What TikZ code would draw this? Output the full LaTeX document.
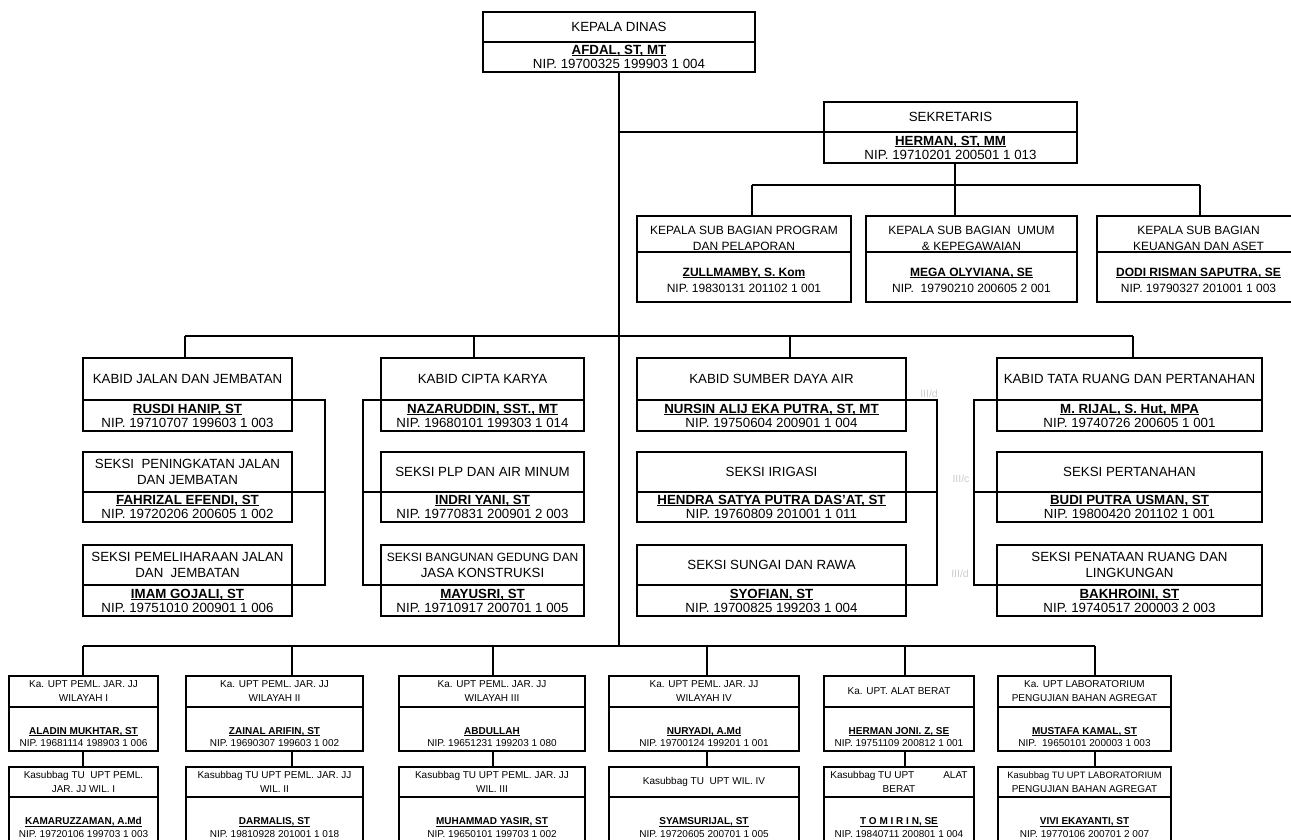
\documentclass[tikz,border=0pt]{standalone}
\usepackage{fontspec}
\setmainfont{Liberation Sans}
\usetikzlibrary{calc}
\newcommand{\namepad}{}
\newcommand{\titlepad}{}
\newcommand{\nameul}[1]{\sbox0{\textbf{#1}}\rlap{\rule[-1.7pt]{\wd0}{0.9pt}}\usebox0}
% unit: name, left, top, divider, right, bottom, title, person, nip
\newcommand{\orgunit}[9]{%
  \node[head, minimum width={#5-#2}, minimum height={#4-#3}] (#1-t) at ({(#2+#5)/2},{(#3+#4)/2}) {\titlepad#7};
  \node[body, minimum width={#5-#2}, minimum height={#6-#4}] (#1-b) at ({(#2+#5)/2},{(#4+#6)/2}) {\namepad\nameul{#8}\\#9};
}
\tikzset{
  cell/.style={draw, rectangle, inner sep=0pt, outer sep=0pt, align=center, line width=1.4pt},
  head/.style={cell, font=\fontsize{13.3}{16}\selectfont},
  body/.style={cell, font=\fontsize{13.3}{14}\selectfont},
  link/.style={line width=1.4pt},
  grade/.style={text=black!20, font=\fontsize{10.5}{12}\selectfont}
}

\begin{document}
\begin{tikzpicture}[x=1pt,y=-1pt]
\clip (0,0) rectangle (1291,839);
\fill[white] (0,0) rectangle (1291,839);
\node[grade] (g1) at (929,394) {III/d};
\node[grade] (g2) at (961,479) {III/c};
\node[grade] (g3) at (960,574) {III/d};

\orgunit{kd}{483}{12}{42}{755}{72}{KEPALA DINAS}{AFDAL, ST, MT}{NIP. 19700325 199903 1 004}
\orgunit{sek}{824}{102}{132}{1077}{163}{SEKRETARIS}{HERMAN, ST, MM}{NIP. 19710201 200501 1 013}

% sub bagian
\begin{scope}[head/.append style={font=\fontsize{12}{16}\selectfont}, body/.append style={font=\fontsize{12}{16}\selectfont}]
\renewcommand{\titlepad}{\rule{0pt}{17.5pt}}
\renewcommand{\namepad}{\rule{0pt}{14.6pt}}
\orgunit{sb1}{637}{216}{252}{851}{302}{KEPALA SUB BAGIAN PROGRAM\\DAN PELAPORAN}{ZULLMAMBY, S. Kom}{NIP. 19830131 201102 1 001}
\orgunit{sb2}{866}{216}{252}{1077}{302}{KEPALA SUB BAGIAN\ \ UMUM\\\& KEPEGAWAIAN}{MEGA OLYVIANA, SE}{NIP.\ \ 19790210 200605 2 001}
\orgunit{sb3}{1097}{216}{252}{1300}{302}{KEPALA SUB BAGIAN\\KEUANGAN DAN ASET}{DODI RISMAN SAPUTRA, SE}{NIP. 19790327 201001 1 003}
\end{scope}

% kabid dan seksi
\orgunit{kb1}{83}{358}{400}{292}{431}{KABID JALAN DAN JEMBATAN}{RUSDI HANIP, ST}{NIP. 19710707 199603 1 003}
\orgunit{kb2}{381}{358}{400}{584}{431}{KABID CIPTA KARYA}{NAZARUDDIN, SST., MT}{NIP. 19680101 199303 1 014}
\orgunit{kb3}{637}{358}{400}{906}{431}{KABID SUMBER DAYA AIR}{NURSIN ALIJ EKA PUTRA, ST, MT}{NIP. 19750604 200901 1 004}
\orgunit{kb4}{997}{358}{400}{1262}{431}{KABID TATA RUANG DAN PERTANAHAN}{M. RIJAL, S. Hut, MPA}{NIP. 19740726 200605 1 001}

\orgunit{s11}{83}{452}{492}{292}{522}{SEKSI\ \ PENINGKATAN JALAN\\DAN JEMBATAN}{FAHRIZAL EFENDI, ST}{NIP. 19720206 200605 1 002}
\orgunit{s12}{381}{452}{492}{584}{522}{SEKSI PLP DAN AIR MINUM}{INDRI YANI, ST}{NIP. 19770831 200901 2 003}
\orgunit{s13}{637}{452}{492}{906}{522}{SEKSI IRIGASI}{HENDRA SATYA PUTRA DAS'AT, ST}{NIP. 19760809 201001 1 011}
\orgunit{s14}{997}{452}{492}{1262}{522}{SEKSI PERTANAHAN}{BUDI PUTRA USMAN, ST}{NIP. 19800420 201102 1 001}

\orgunit{s21}{83}{545}{585}{292}{616}{SEKSI PEMELIHARAAN JALAN\\DAN\ \ JEMBATAN}{IMAM GOJALI, ST}{NIP. 19751010 200901 1 006}
\orgunit{s22}{381}{545}{585}{584}{616}{\fontsize{12}{16}\selectfont SEKSI BANGUNAN GEDUNG DAN\\JASA KONSTRUKSI}{MAYUSRI, ST}{NIP. 19710917 200701 1 005}
\orgunit{s23}{637}{545}{585}{906}{616}{SEKSI SUNGAI DAN RAWA}{SYOFIAN, ST}{NIP. 19700825 199203 1 004}
\orgunit{s24}{997}{545}{585}{1262}{616}{SEKSI PENATAAN RUANG DAN\\LINGKUNGAN}{BAKHROINI, ST}{NIP. 19740517 200003 2 003}

% upt
\begin{scope}[head/.append style={font=\fontsize{10}{14}\selectfont}, body/.append style={font=\fontsize{10}{12.5}\selectfont}]
\renewcommand{\namepad}{\rule{0pt}{23pt}}
\orgunit{u1}{9}{676}{707}{158}{751}{Ka. UPT PEML. JAR. JJ\\WILAYAH I}{ALADIN MUKHTAR, ST}{NIP. 19681114 198903 1 006}
\orgunit{u2}{186}{676}{707}{363}{751}{Ka. UPT PEML. JAR. JJ\\WILAYAH II}{ZAINAL ARIFIN, ST}{NIP. 19690307 199603 1 002}
\orgunit{u3}{399}{676}{707}{585}{751}{Ka. UPT PEML. JAR. JJ\\WILAYAH III}{ABDULLAH}{NIP. 19651231 199203 1 080}
\orgunit{u4}{609}{676}{707}{799}{751}{Ka. UPT PEML. JAR. JJ\\WILAYAH IV}{NURYADI, A.Md}{NIP. 19700124 199201 1 001}
\orgunit{u5}{824}{676}{707}{974}{751}{Ka. UPT. ALAT BERAT}{HERMAN JONI. Z, SE}{NIP. 19751109 200812 1 001}
\orgunit{u6}{998}{676}{707}{1171}{751}{Ka. UPT LABORATORIUM\\PENGUJIAN BAHAN AGREGAT}{MUSTAFA KAMAL, ST}{NIP.\ \ 19650101 200003 1 003}

\orgunit{k1}{9}{767}{797}{158}{842}{Kasubbag TU\ \ UPT PEML.\\JAR. JJ WIL. I}{KAMARUZZAMAN, A.Md}{NIP. 19720106 199703 1 003}
\orgunit{k2}{186}{767}{797}{363}{842}{Kasubbag TU UPT PEML. JAR. JJ\\WIL. II}{DARMALIS, ST}{NIP. 19810928 201001 1 018}
\orgunit{k3}{399}{767}{797}{585}{842}{Kasubbag TU UPT PEML. JAR. JJ\\WIL. III}{MUHAMMAD YASIR, ST}{NIP. 19650101 199703 1 002}
\orgunit{k4}{609}{767}{797}{799}{842}{Kasubbag TU\ \ UPT WIL. IV}{SYAMSURIJAL, ST}{NIP. 19720605 200701 1 005}
\orgunit{k5}{824}{767}{797}{974}{842}{Kasubbag TU UPT\hspace{29pt}ALAT\\BERAT}{T O M I R I N, SE}{NIP. 19840711 200801 1 004}
\orgunit{k6}{998}{767}{797}{1171}{842}{\fontsize{9.3}{12}\selectfont Kasubbag TU UPT LABORATORIUM\\PENGUJIAN BAHAN AGREGAT}{VIVI EKAYANTI, ST}{NIP. 19770106 200701 2 007}
\end{scope}

% garis
\coordinate (kbL) at (185,336);
\coordinate (kbR) at (1133,336);
\coordinate (sbL) at (752,185);
\coordinate (sbR) at (1200,185);
\coordinate (uptL) at (83,646);
\coordinate (uptR) at (1095,646);
\draw[link] (kd-b.south) -- (kd-b.south |- uptL);
\draw[link] (kd-b.south |- sek-t.south west) -- (sek-t.south west);
\draw[link] ([xshift=4.5pt]sek-b.south) -- ([xshift=4.5pt]sek-b.south |- sbL);
\draw[link] (sbL) -- (sbR);
\foreach \n/\dx in {sb1/8, sb2/-16.5, sb3/1.5}
  \draw[link] ([xshift=\dx pt]\n-t.north) -- ([xshift=\dx pt]\n-t.north |- sbL);
\draw[link] (kbL) -- (kbR);
\foreach \n/\dx in {kb1/-2.5, kb2/-8.5, kb3/18.5, kb4/3.5}
  \draw[link] ([xshift=\dx pt]\n-t.north) -- ([xshift=\dx pt]\n-t.north |- kbL);
\draw[link] (kb1-b.north east) -- ++(33,0) |- (s21-b.north east);
\draw[link] (s11-b.north east) -- ++(33,0);
\draw[link] (kb2-b.north west) -- ++(-18,0) |- (s22-b.north west);
\draw[link] (s12-b.north west) -- ++(-18,0);
\draw[link] (kb3-b.north east) -- ++(31,0) |- (s23-b.north east);
\draw[link] (s13-b.north east) -- ++(31,0);
\draw[link] (kb4-b.north west) -- ++(-23,0) |- (s24-b.north west);
\draw[link] (s14-b.north west) -- ++(-23,0);
\draw[link] (uptL) -- (uptR);
\foreach \i/\dx in {1/-0.5, 2/17.5, 3/1, 4/3, 5/6, 6/10.5} {
  \draw[link] ([xshift=\dx pt]u\i-t.north) -- ([xshift=\dx pt]u\i-t.north |- uptL);
  \draw[link] ([xshift=\dx pt]u\i-b.south) -- ([xshift=\dx pt]k\i-t.north);
}
\end{tikzpicture}
\end{document}
